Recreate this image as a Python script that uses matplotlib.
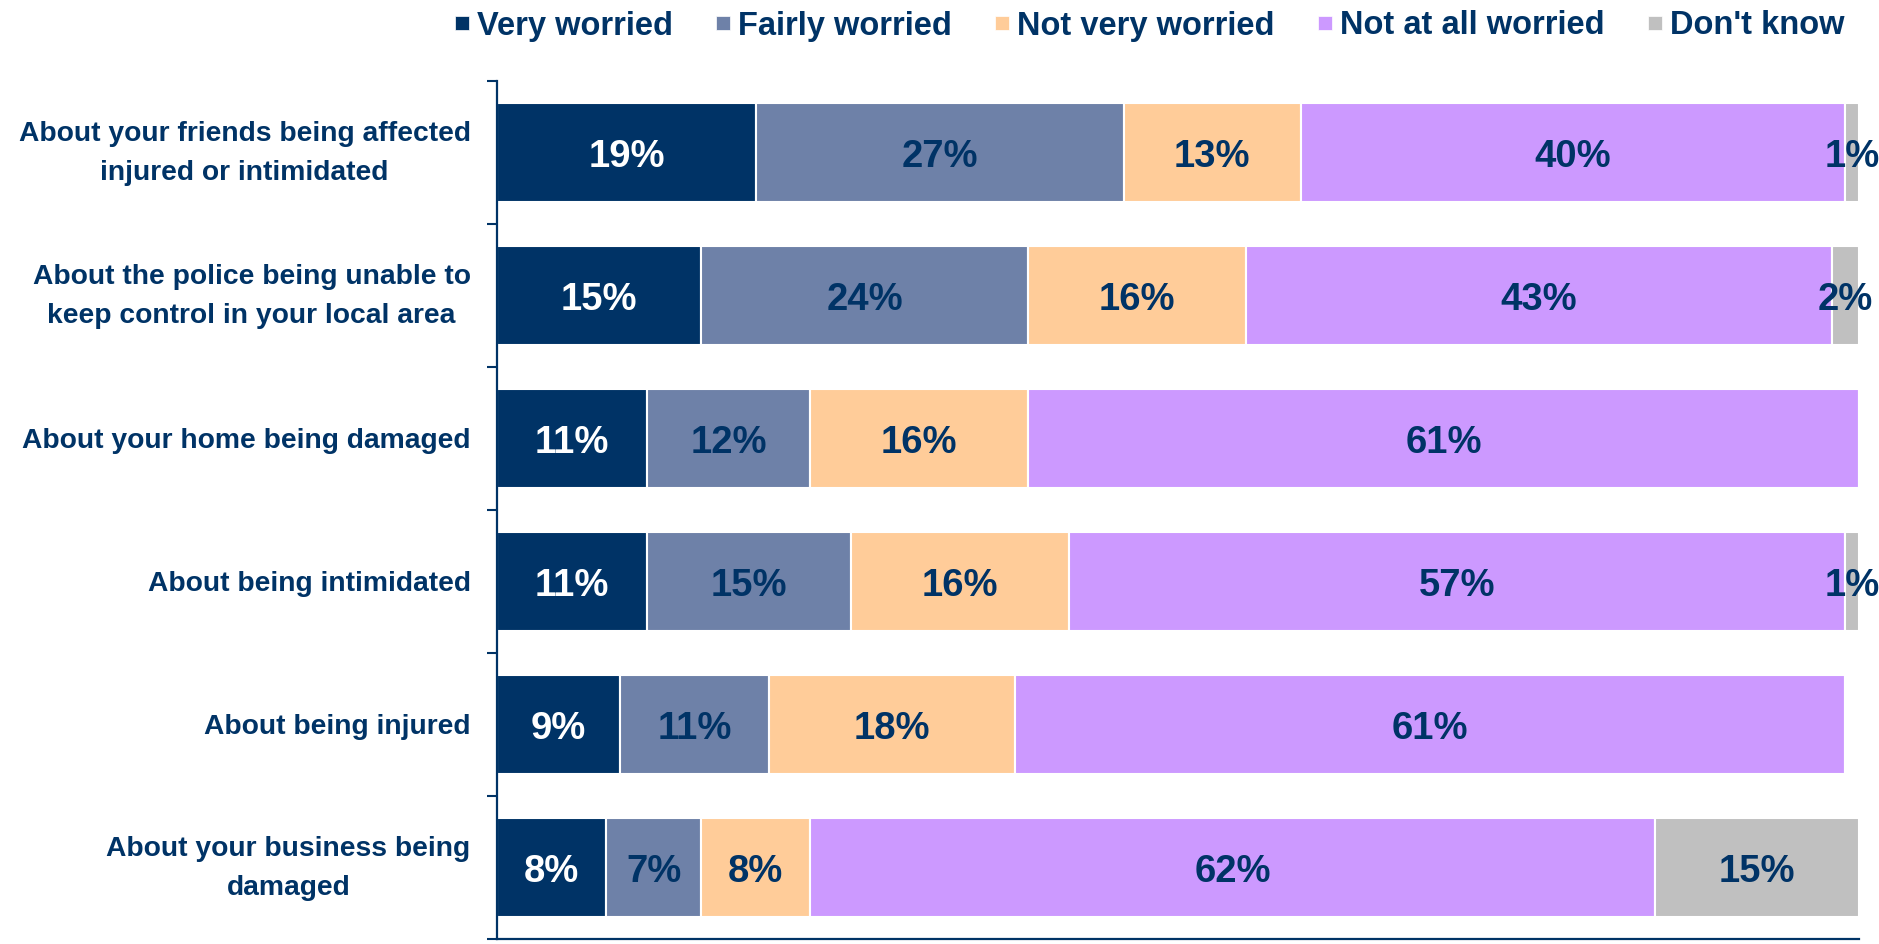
import matplotlib
matplotlib.use("Agg")
import matplotlib.pyplot as plt
from matplotlib.lines import Line2D
from matplotlib.transforms import ScaledTranslation
import numpy as np

plt.rcParams['font.family'] = ['Liberation Sans', 'DejaVu Sans']
plt.rcParams['font.weight'] = 'bold'

categories = [
    "About your friends being affected\ninjured or intimidated",
    "About the police being unable to\nkeep control in your local area",
    "About your home being damaged",
    "About being intimidated",
    "About being injured",
    "About your business being\ndamaged",
]
series_names = ["Very worried", "Fairly worried", "Not very worried",
                "Not at all worried", "Don't know"]
very_worried = [19, 15, 11, 11, 9, 8]
fairly_worried = [27, 24, 12, 15, 11, 7]
not_very_worried = [13, 16, 16, 16, 18, 8]
not_at_all_worried = [40, 43, 61, 57, 61, 62]
dont_know = [1, 2, 0, 1, 0, 15]

series = [very_worried, fairly_worried, not_very_worried, not_at_all_worried, dont_know]
colors = ["#003366", "#6E81A8", "#FFCC99", "#CC99FF", "#C0C0C0"]
label_colors = ["white", "#003366", "#003366", "#003366", "#003366"]
navy = "#003366"

fig = plt.figure(figsize=(18.79, 9.44), dpi=100)
ax = fig.add_axes([497 / 1879, 5 / 944, (1859 - 497) / 1879, (939 - 81) / 944])

y = np.arange(len(categories))
left = np.zeros(len(categories))
for vals, col, lc, name in zip(series, colors, label_colors, series_names):
    vals = np.array(vals, dtype=float)
    ax.barh(y, vals, left=left, height=0.69, color=col, edgecolor="white",
            linewidth=1.5, label=name)
    for yi, (l, v) in enumerate(zip(left, vals)):
        if v > 0:
            ax.text(l + v / 2, yi + 0.03, f"{int(v)}%", ha="center", va="center",
                    color=lc, fontsize=27.5, fontweight="bold")
    left = left + vals

ax.set_xlim(0, 100)
ax.set_ylim(len(categories) - 0.5, -0.5)
ax.set_yticks(y)
ax.set_yticklabels(categories, fontsize=20.3, color=navy, fontweight="bold",
                   multialignment="center", linespacing=1.65)
ax.tick_params(axis="y", which="major", length=0, pad=19)
ax.set_yticks(np.arange(-0.5, len(categories) + 0.5, 1), minor=True)
ax.tick_params(axis="y", which="minor", length=7, width=1.5, color=navy, direction="out")
ax.set_xticks([])
for s in ["top", "right"]:
    ax.spines[s].set_visible(False)
for s in ["left", "bottom"]:
    ax.spines[s].set_color(navy)
    ax.spines[s].set_linewidth(1.6)

shift = ScaledTranslation(0, 6 / 72, fig.dpi_scale_trans)
for lbl in ax.get_yticklabels():
    if "\n" in lbl.get_text():
        lbl.set_transform(lbl.get_transform() + shift)

handles = [Line2D([0], [0], marker="s", linestyle="none", markersize=10,
                  markerfacecolor=c, markeredgecolor="white", markeredgewidth=0.5)
           for c in colors]
fig.legend(handles, series_names, loc="center", bbox_to_anchor=(1147 / 1879, 1 - 26 / 944),
           ncol=5, frameon=False, prop={"size": 23.5, "weight": "bold"},
           labelcolor=navy, handletextpad=0.1, columnspacing=1.15, handlelength=0.75,
           borderpad=0, borderaxespad=0)

fig.savefig("out.png", dpi=100)
